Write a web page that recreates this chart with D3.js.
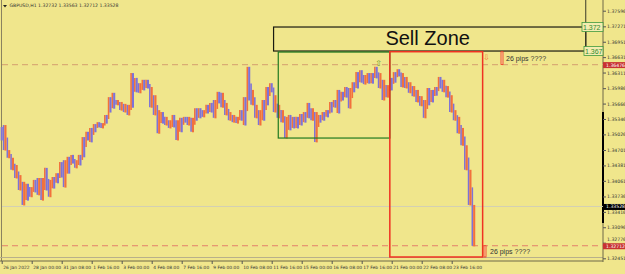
<!DOCTYPE html>
<html>
<head>
<meta charset="utf-8">
<script src="https://cdn.jsdelivr.net/npm/d3@7"></script>
<style>
  body { margin: 0; background: #f0e68c; }
  svg { display: block; }
</style>
</head>
<body>
<div id="chart"></div>
<script>
// GBPUSD H1, one sample every 4 bars (high / low)
const hi = [1.3518,1.3522,1.3470,1.3454,1.3439,1.3418,1.3404,1.3400,1.3393,1.3408,
  1.3412,1.3412,1.3433,1.3408,1.3414,1.3422,1.3445,1.3449,1.3456,1.3460,
  1.3449,1.3460,1.3497,1.3508,1.3516,1.3524,1.3528,1.3526,1.3543,1.3580,
  1.3589,1.3574,1.3570,1.3566,1.3564,1.3630,1.3620,1.3609,1.3616,1.3616,
  1.3601,1.3584,1.3553,1.3549,1.3539,1.3532,1.3543,1.3532,1.3537,1.3539,
  1.3539,1.3537,1.3557,1.3557,1.3553,1.3564,1.3568,1.3574,1.3591,1.3589,
  1.3568,1.3549,1.3543,1.3539,1.3553,1.3580,1.3643,1.3595,1.3564,1.3553,
  1.3574,1.3601,1.3609,1.3584,1.3564,1.3553,1.3539,1.3543,1.3539,1.3539,
  1.3545,1.3549,1.3568,1.3557,1.3549,1.3543,1.3549,1.3553,1.3570,1.3574,
  1.3595,1.3591,1.3601,1.3599,1.3611,1.3632,1.3636,1.3626,1.3630,1.3630,
  1.3643,1.3630,1.3616,1.3605,1.3620,1.3632,1.3638,1.3630,1.3622,1.3611,
  1.3603,1.3595,1.3582,1.3574,1.3599,1.3595,1.3601,1.3622,1.3616,1.3603,
  1.3584,1.3553,1.3539,1.3516,1.3480,1.3429,1.3356];
const lo = [1.3491,1.3470,1.3454,1.3429,1.3412,1.3387,1.3356,1.3366,1.3373,1.3383,
  1.3377,1.3366,1.3387,1.3373,1.3391,1.3402,1.3414,1.3393,1.3422,1.3443,
  1.3433,1.3439,1.3456,1.3491,1.3487,1.3508,1.3518,1.3516,1.3526,1.3549,
  1.3557,1.3564,1.3553,1.3549,1.3543,1.3559,1.3591,1.3589,1.3595,1.3599,
  1.3559,1.3543,1.3505,1.3526,1.3522,1.3516,1.3518,1.3491,1.3508,1.3528,
  1.3522,1.3508,1.3532,1.3537,1.3539,1.3547,1.3549,1.3537,1.3568,1.3559,
  1.3543,1.3532,1.3528,1.3526,1.3532,1.3522,1.3574,1.3564,1.3537,1.3522,
  1.3532,1.3564,1.3591,1.3549,1.3537,1.3528,1.3495,1.3512,1.3516,1.3516,
  1.3522,1.3528,1.3537,1.3532,1.3487,1.3528,1.3532,1.3539,1.3549,1.3559,
  1.3547,1.3574,1.3580,1.3557,1.3591,1.3599,1.3611,1.3607,1.3609,1.3609,
  1.3620,1.3599,1.3574,1.3580,1.3595,1.3611,1.3624,1.3601,1.3599,1.3589,
  1.3582,1.3570,1.3562,1.3537,1.3564,1.3570,1.3584,1.3599,1.3591,1.3580,
  1.3549,1.3532,1.3505,1.3480,1.3429,1.3356,1.3271];

// time axis labels, one every 32 bars
const timeLabels = ["26 Jan 2022","28 Jan 00:00","31 Jan 08:00","1 Feb 16:00","3 Feb 00:00",
  "4 Feb 08:00","7 Feb 16:00","9 Feb 00:00","10 Feb 08:00","11 Feb 16:00","15 Feb 00:00",
  "16 Feb 08:00","17 Feb 16:00","21 Feb 00:00","22 Feb 08:00","23 Feb 16:00"];
const priceTicks = [1.37596,1.37271,1.36951,1.36631,1.36311,1.35986,1.35666,1.35346,1.35026,
  1.34701,1.34381,1.34061,1.33736,1.33416,1.33096,1.32776,1.32451];

const header = "GBPUSD,H1  1.32732 1.33563 1.32712 1.33528";
const lastPrice = 1.33528;
const highLine = 1.36476;
const lowLine = 1.32712;
// objects: [startBar, endBar, topPrice, bottomPrice]
const sellZone = [290, 623, 1.37257, 1.36758];
const greenBox = [295, 414, 1.36737, 1.34950];
const redBox = [414, 513, 1.36744, 1.32478];

const W = 625, H = 274;
const svg = d3.select("#chart").append("svg")
  .attr("width", W).attr("height", H)
  .style("font-family", "Tahoma, 'DejaVu Sans', sans-serif");

svg.append("rect").attr("width", W).attr("height", H).attr("fill", "#f0e68c");

const x = d3.scaleLinear().domain([0, 640]).range([1.7, 1.7 + 640 * 0.9375]);
const y = d3.scaleLinear().domain([1.32451, 1.37596]).range([258.3, 10.7]);

// frame
svg.append("line").attr("x1", 1.5).attr("x2", 1.5).attr("y1", 0).attr("y2", 261)
  .attr("stroke", "#8a8260").attr("stroke-width", 1);
svg.append("line").attr("x1", 0).attr("x2", 603).attr("y1", 257.5).attr("y2", 257.5)
  .attr("stroke", "#b8b08a").attr("stroke-width", 1);
svg.append("line").attr("x1", 0).attr("x2", 603).attr("y1", 261).attr("y2", 261)
  .attr("stroke", "#6e6848").attr("stroke-width", 1.2);
svg.append("line").attr("x1", 603).attr("x2", 603).attr("y1", 0).attr("y2", 262)
  .attr("stroke", "#6e6848").attr("stroke-width", 1);
svg.append("line").attr("x1", 603).attr("x2", 603).attr("y1", 112).attr("y2", 223)
  .attr("stroke", "#000").attr("stroke-width", 2);

// horizontal price lines
svg.append("line").attr("x1", 2).attr("x2", 603)
  .attr("y1", y(lastPrice)).attr("y2", y(lastPrice))
  .attr("stroke", "#d2cfb4").attr("stroke-width", 1);
svg.append("line").attr("x1", 2).attr("x2", 603)
  .attr("y1", y(highLine)).attr("y2", y(highLine))
  .attr("stroke", "#d9ac74").attr("stroke-width", 1.3).attr("stroke-dasharray", "6,4");
svg.append("line").attr("x1", 2).attr("x2", 603)
  .attr("y1", y(lowLine)).attr("y2", y(lowLine))
  .attr("stroke", "#e2806a").attr("stroke-width", 1).attr("stroke-dasharray", "6,4");

// price bars, each joined to the previous one so the series reads as a line
const up = "#7d72d8", down = "#f2713c";
const data = hi.map((h, i) => {
  const mid = (h + lo[i]) / 2;
  const prev = i > 0 ? (hi[i - 1] + lo[i - 1]) / 2 : mid;
  return {i: i, hi: h, lo: lo[i], prev: prev, up: mid >= prev};
});
svg.selectAll(".join")
  .data(data.slice(1))
  .enter().append("line")
  .attr("class", "join")
  .attr("x1", d => x(d.i * 4 - 2)).attr("x2", d => x(d.i * 4 - 2))
  .attr("y1", d => y(Math.max(d.prev, d.hi)))
  .attr("y2", d => y(Math.min(d.prev, d.lo)))
  .attr("stroke", d => d.up ? down : up)
  .attr("stroke-width", 1.6);
svg.selectAll(".bar")
  .data(data)
  .enter().append("line")
  .attr("class", "bar")
  .attr("x1", d => x(d.i * 4)).attr("x2", d => x(d.i * 4))
  .attr("y1", d => y(d.hi))
  .attr("y2", d => y(d.lo) + 0.5)
  .attr("stroke", d => d.up ? up : down)
  .attr("stroke-width", 2.1);

// boxes
function box(b, stroke, sw) {
  svg.append("rect")
    .attr("x", x(b[0])).attr("y", y(b[2]))
    .attr("width", x(b[1]) - x(b[0])).attr("height", y(b[3]) - y(b[2]))
    .attr("fill", "none").attr("stroke", stroke).attr("stroke-width", sw);
}
box(sellZone, "#1a1a10", 1.2);
box(greenBox, "#207a20", 1.2);
box(redBox, "#f03222", 1.5);

svg.append("line").attr("x1", x(sellZone[1])).attr("x2", x(sellZone[1]))
  .attr("y1", 0).attr("y2", y(sellZone[3]) - 3)
  .attr("stroke", "#3a3a28").attr("stroke-width", 1);

svg.append("text")
  .attr("x", (x(sellZone[0]) + x(sellZone[1])) / 2 - 2).attr("y", 44.5)
  .attr("text-anchor", "middle")
  .style("font-family", "Arial, 'Liberation Sans', sans-serif")
  .style("font-size", "20px").attr("fill", "#111")
  .text("Sell Zone");

// green price tags for the zone
[[sellZone[2], "1.372"], [sellZone[3], "1.367"]].forEach(([p, t], j) => {
  const x0 = j === 0 ? 582 : 584;
  svg.append("rect").attr("x", x0).attr("y", y(p) - 4.5)
    .attr("width", 603 - x0).attr("height", 9)
    .attr("fill", "#f4ecb0").attr("stroke", "#3f9a3f").attr("stroke-width", 0.8);
  svg.append("text").attr("x", x0 + 1).attr("y", y(p) + 3)
    .style("font-family", "Arial, 'Liberation Sans', sans-serif")
    .style("font-size", "7px").attr("fill", "#2e8a2e").text(t);
});

// arrows
svg.append("text").attr("x", x(402)).attr("y", 66).attr("text-anchor", "middle")
  .style("font-family", "'DejaVu Sans'").style("font-size", "8px")
  .attr("fill", "#6f9a2a").text("⇧");
svg.append("text").attr("x", x(517)).attr("y", 60).attr("text-anchor", "middle")
  .style("font-family", "'DejaVu Sans'").style("font-size", "8px")
  .attr("fill", "#f07a3a").text("⇩");

// pips markers
function pips(xp, p1, p2, tx) {
  svg.append("rect").attr("x", xp).attr("y", y(p1))
    .attr("width", 2).attr("height", y(p2) - y(p1))
    .attr("fill", "#f8e0a0").attr("stroke", "#f03020").attr("stroke-width", 0.8);
  svg.append("text").attr("x", tx).attr("y", (y(p1) + y(p2)) / 2 + 2.5)
    .style("font-family", "Arial, 'Liberation Sans', sans-serif")
    .style("font-size", "7px").attr("fill", "#333").text("26 pips ????");
}
pips(501, 1.36744, 1.36476, 506);
pips(484, 1.32712, 1.32478, 490);

// right price axis
const yAxis = d3.axisRight(y).tickValues(priceTicks).tickFormat(d3.format(".5f")).tickSize(3);
svg.append("g")
  .attr("transform", "translate(603,0)")
  .call(yAxis)
  .call(g => g.select(".domain").remove())
  .call(g => g.selectAll("line").attr("stroke", "#555"))
  .call(g => g.selectAll("text").attr("x", 4).attr("fill", "#333")
    .attr("dy", d => Math.abs(d - 1.32776) < 1e-6 ? "-0.5em" : "0.32em")
    .style("font-size", "4.6px").style("font-family", "Tahoma, 'DejaVu Sans', sans-serif"));

// price tags on axis
function tag(p, bg) {
  svg.append("rect").attr("x", 603).attr("y", y(p) - 2.5).attr("width", 22).attr("height", 6)
    .attr("fill", bg);
  svg.append("text").attr("x", 606).attr("y", y(p) + 2)
    .style("font-size", "4.6px").attr("fill", "#fff").text(d3.format(".5f")(p));
}
tag(highLine, "#c83232");
tag(lowLine, "#c83232");
tag(lastPrice, "#000");

// time axis
const xAxis = d3.axisBottom(x)
  .tickValues(timeLabels.map((t, i) => i * 32))
  .tickFormat((d, i) => timeLabels[i]).tickSize(3);
svg.append("g")
  .attr("transform", "translate(0,261)")
  .call(xAxis)
  .call(g => g.select(".domain").remove())
  .call(g => g.selectAll("line").attr("stroke", "#555"))
  .call(g => g.selectAll("text").attr("text-anchor", "start").attr("x", 1).attr("y", 5)
    .attr("fill", "#333").style("font-size", "4.4px")
    .style("font-family", "Tahoma, 'DejaVu Sans', sans-serif"));

// header
svg.append("path").attr("d", "M3,5 L7,5 L5,7.5 Z").attr("fill", "#222");
svg.append("text").attr("x", 9.5).attr("y", 7)
  .style("font-size", "4.6px").attr("fill", "#333").text(header);
</script>
</body>
</html>
